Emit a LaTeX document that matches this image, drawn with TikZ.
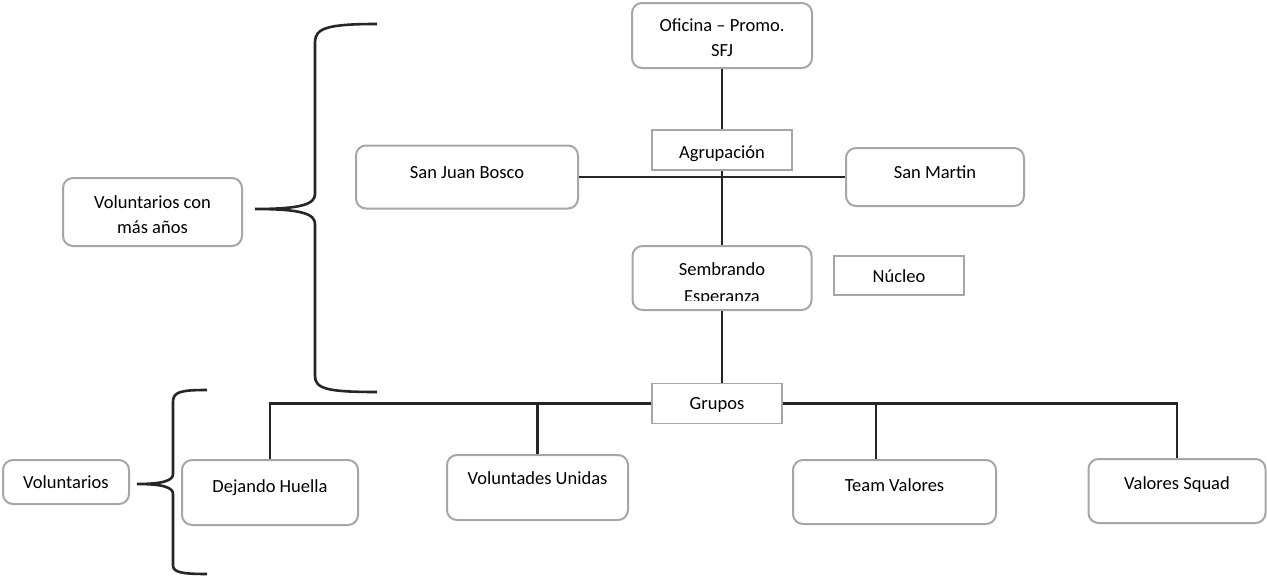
\documentclass[tikz,border=0pt]{standalone}
\usepackage{fontspec}
\setmainfont{Carlito}
\usepackage{trimclip}
\usepackage{tikz}
\definecolor{boxgray}{RGB}{166,166,166}
\definecolor{linedark}{RGB}{38,38,38}

\begin{document}
\begin{tikzpicture}[
  x=1pt, y=-1pt,
  rbox/.style={draw=boxgray, line width=2pt, rounded corners=10pt, inner sep=0pt, align=center},
  sbox/.style={draw=boxgray, line width=1.5pt, inner sep=0pt},
  lift/.style={text height=17pt, text depth=#1},
  link/.style={draw=linedark, line width=2.6pt},
  every node/.style={font=\fontsize{18.5}{25}\selectfont, text=black}
]
\useasboundingbox (0,0) rectangle (1267,581);

% ---- top: office, grouping, nucleus ----
\node[rbox, minimum width=180pt, minimum height=65pt] (ofi) at (722,35.5) {\rule{0pt}{17pt}Oficina -- Promo.\\SFJ};
\node[sbox, lift=1pt, minimum width=140pt, minimum height=40pt] (agr) at (722,150) {Agrupación};
\node[rbox, lift=13.5pt, minimum width=222pt, minimum height=63pt] (sjb) at (467,177) {San Juan Bosco};
\node[rbox, lift=14.5pt, minimum width=178pt, minimum height=58pt] (smt) at (935,177) {San Martin};
\node[rbox, minimum width=179pt, minimum height=64pt] (sem) at (722,278) {\rule{0pt}{19pt}Sembrando\\\clipbox{0pt 5.5pt 0pt 0pt}{Esperanza}};
\node[sbox, lift=3.5pt, minimum width=130pt, minimum height=39pt] (nuc) at (899,275.5) {Núcleo};
\draw[link] (ofi) -- (agr);
\draw[link] (agr) -- (sem);
\draw[link] (sjb) -- (smt);

% ---- bottom: groups ----
\node[sbox, lift=5.5pt, minimum width=130pt, minimum height=40pt] (grp) at (717,403.5) {Grupos};
\node[rbox, lift=17.5pt, minimum width=176pt, minimum height=65pt] (dej) at (270,492.5) {Dejando Huella};
\node[rbox, lift=23.5pt, minimum width=181pt, minimum height=65pt] (vun) at (537.5,487.5) {Voluntades Unidas};
\node[rbox, lift=18.5pt, minimum width=203pt, minimum height=64pt] (tvl) at (894.5,492) {Team Valores};
\node[rbox, lift=20.5pt, minimum width=177pt, minimum height=64pt] (vsq) at (1177,491) {Valores Squad};
\coordinate (tdrop) at (876,403.5);
\draw[link] (sem.south) -- (sem.south |- grp.north);
\draw[link] (grp.west) -| (dej.north);
\draw[link] (grp.east) -| (vsq.north);
\draw[link] (vun.north |- grp.west) -- (vun.north);
\draw[link] (tdrop) -- (tdrop |- tvl.north);

% ---- left: volunteers and braces ----
\node[rbox, minimum width=179pt, minimum height=68pt] (vma) at (152.5,212) {\rule{0pt}{19pt}Voluntarios con\\más años};
\node[rbox, lift=3.5pt, minimum width=126pt, minimum height=44pt] (vol) at (66,482) {Voluntarios};
\draw[link] (377,24) .. controls (328,24) and (315,28) .. (315,42) -- (315,194)
  .. controls (315,204) and (302,209) .. (255,209)
  .. controls (302,209) and (315,214) .. (315,224) -- (315,376)
  .. controls (315,389) and (328,392) .. (377,392);
\draw[link] (207,390) .. controls (180,390) and (173,392) .. (173,402) -- (173,474)
  .. controls (173,480) and (165,484) .. (137,484)
  .. controls (165,484) and (173,488) .. (173,494) -- (173,565)
  .. controls (173,572) and (180,574) .. (207,574);
\end{tikzpicture}
\end{document}
